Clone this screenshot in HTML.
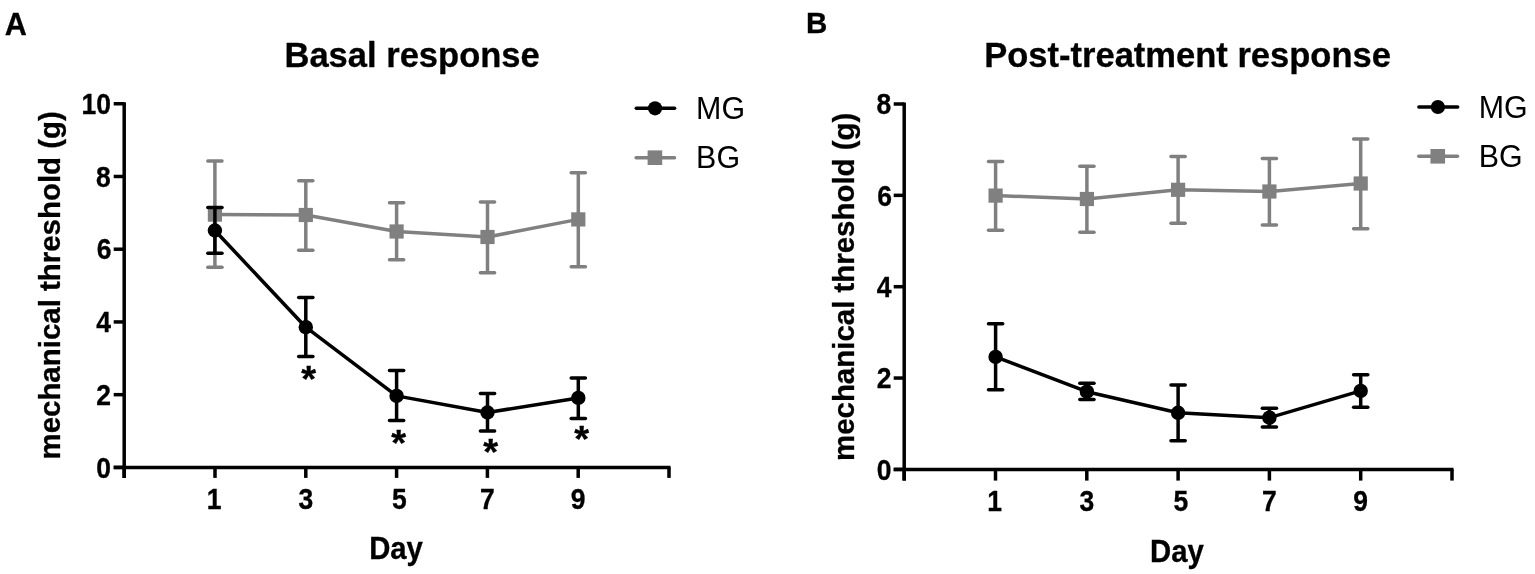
<!DOCTYPE html>
<html><head><meta charset="utf-8"><title>Mechanical threshold</title>
<style>
html,body{margin:0;padding:0;background:#fff;}
body{width:1535px;height:574px;overflow:hidden;}
svg{display:block;font-family:"Liberation Sans",Arial,Helvetica,sans-serif;}
text[font-weight="bold"]{stroke:#000;stroke-width:0.3px;}
</style></head><body>
<svg width="1535" height="574" viewBox="0 0 1535 574">
<rect width="1535" height="574" fill="#fff"/>
<g>
<g stroke="#000" stroke-width="3.5" fill="none" stroke-linecap="butt">
<line x1="124.2" y1="102.25" x2="124.2" y2="477.9"/>
<line x1="113.7" y1="467.4" x2="670.5" y2="467.4"/>
<line x1="113.7" y1="467.4" x2="124.2" y2="467.4"/>
<line x1="113.7" y1="394.66999999999996" x2="124.2" y2="394.66999999999996"/>
<line x1="113.7" y1="321.94" x2="124.2" y2="321.94"/>
<line x1="113.7" y1="249.21" x2="124.2" y2="249.21"/>
<line x1="113.7" y1="176.48000000000002" x2="124.2" y2="176.48000000000002"/>
<line x1="113.7" y1="103.75" x2="124.2" y2="103.75"/>
<line x1="124.2" y1="467.4" x2="124.2" y2="477.9"/>
<line x1="215.0" y1="467.4" x2="215.0" y2="477.9"/>
<line x1="305.8" y1="467.4" x2="305.8" y2="477.9"/>
<line x1="396.59999999999997" y1="467.4" x2="396.59999999999997" y2="477.9"/>
<line x1="487.4" y1="467.4" x2="487.4" y2="477.9"/>
<line x1="578.2" y1="467.4" x2="578.2" y2="477.9"/>
<line x1="669.0" y1="467.4" x2="669.0" y2="477.9"/>
</g>
<text x="96.35" y="0" transform="translate(0 477.60) scale(1 1.12)" font-size="26.5" font-weight="bold">0</text>
<text x="96.32" y="0" transform="translate(0 404.87) scale(1 1.12)" font-size="26.5" font-weight="bold">2</text>
<text x="96.20" y="0" transform="translate(0 332.14) scale(1 1.12)" font-size="26.5" font-weight="bold">4</text>
<text x="96.72" y="0" transform="translate(0 259.41) scale(1 1.12)" font-size="26.5" font-weight="bold">6</text>
<text x="96.08" y="0" transform="translate(0 186.68) scale(1 1.12)" font-size="26.5" font-weight="bold">8</text>
<text x="81.61" y="0" transform="translate(0 113.95) scale(1 1.12)" font-size="26.5" font-weight="bold">10</text>
<text x="206.87" y="0" transform="translate(0 508.80) scale(1 1.12)" font-size="26.5" font-weight="bold">1</text>
<text x="298.61" y="0" transform="translate(0 508.80) scale(1 1.12)" font-size="26.5" font-weight="bold">3</text>
<text x="391.99" y="0" transform="translate(0 508.80) scale(1 1.12)" font-size="26.5" font-weight="bold">5</text>
<text x="480.04" y="0" transform="translate(0 508.80) scale(1 1.12)" font-size="26.5" font-weight="bold">7</text>
<text x="570.86" y="0" transform="translate(0 508.80) scale(1 1.12)" font-size="26.5" font-weight="bold">9</text>
<polyline points="214.90,214.60 305.80,215.00 396.60,231.50 487.50,237.00 578.30,219.40" fill="none" stroke="#808080" stroke-width="3.5" stroke-linejoin="round"/>
<g stroke="#808080" stroke-width="3.5" stroke-linecap="round">
<line x1="214.90" y1="161.10" x2="214.90" y2="267.30" stroke-linecap="butt"/>
<line x1="207.80" y1="161.10" x2="222.00" y2="161.10"/>
<line x1="207.80" y1="267.30" x2="222.00" y2="267.30"/>
<line x1="305.80" y1="180.70" x2="305.80" y2="250.20" stroke-linecap="butt"/>
<line x1="298.70" y1="180.70" x2="312.90" y2="180.70"/>
<line x1="298.70" y1="250.20" x2="312.90" y2="250.20"/>
<line x1="396.60" y1="202.80" x2="396.60" y2="259.80" stroke-linecap="butt"/>
<line x1="389.50" y1="202.80" x2="403.70" y2="202.80"/>
<line x1="389.50" y1="259.80" x2="403.70" y2="259.80"/>
<line x1="487.50" y1="201.90" x2="487.50" y2="272.80" stroke-linecap="butt"/>
<line x1="480.40" y1="201.90" x2="494.60" y2="201.90"/>
<line x1="480.40" y1="272.80" x2="494.60" y2="272.80"/>
<line x1="578.30" y1="172.70" x2="578.30" y2="266.70" stroke-linecap="butt"/>
<line x1="571.20" y1="172.70" x2="585.40" y2="172.70"/>
<line x1="571.20" y1="266.70" x2="585.40" y2="266.70"/>
</g>
<rect x="207.80" y="207.50" width="14.2" height="14.2" fill="#808080"/>
<rect x="298.70" y="207.90" width="14.2" height="14.2" fill="#808080"/>
<rect x="389.50" y="224.40" width="14.2" height="14.2" fill="#808080"/>
<rect x="480.40" y="229.90" width="14.2" height="14.2" fill="#808080"/>
<rect x="571.20" y="212.30" width="14.2" height="14.2" fill="#808080"/>
<polyline points="214.90,230.50 305.80,327.20 396.60,395.90 487.50,412.50 578.30,397.90" fill="none" stroke="#000" stroke-width="3.5" stroke-linejoin="round"/>
<g stroke="#000" stroke-width="3.5" stroke-linecap="round">
<line x1="214.90" y1="207.40" x2="214.90" y2="253.30" stroke-linecap="butt"/>
<line x1="207.80" y1="207.40" x2="222.00" y2="207.40"/>
<line x1="207.80" y1="253.30" x2="222.00" y2="253.30"/>
<line x1="305.80" y1="297.50" x2="305.80" y2="356.60" stroke-linecap="butt"/>
<line x1="298.70" y1="297.50" x2="312.90" y2="297.50"/>
<line x1="298.70" y1="356.60" x2="312.90" y2="356.60"/>
<line x1="396.60" y1="370.60" x2="396.60" y2="420.60" stroke-linecap="butt"/>
<line x1="389.50" y1="370.60" x2="403.70" y2="370.60"/>
<line x1="389.50" y1="420.60" x2="403.70" y2="420.60"/>
<line x1="487.50" y1="393.40" x2="487.50" y2="431.10" stroke-linecap="butt"/>
<line x1="480.40" y1="393.40" x2="494.60" y2="393.40"/>
<line x1="480.40" y1="431.10" x2="494.60" y2="431.10"/>
<line x1="578.30" y1="377.90" x2="578.30" y2="418.40" stroke-linecap="butt"/>
<line x1="571.20" y1="377.90" x2="585.40" y2="377.90"/>
<line x1="571.20" y1="418.40" x2="585.40" y2="418.40"/>
</g>
<circle cx="214.90" cy="230.50" r="7.2" fill="#000"/>
<circle cx="305.80" cy="327.20" r="7.2" fill="#000"/>
<circle cx="396.60" cy="395.90" r="7.2" fill="#000"/>
<circle cx="487.50" cy="412.50" r="7.2" fill="#000"/>
<circle cx="578.30" cy="397.90" r="7.2" fill="#000"/>
<text x="-6.84" y="17.57" transform="translate(308.70 373.20) scale(1.09 1.05)" font-size="35" font-weight="bold">*</text>
<text x="-6.84" y="17.57" transform="translate(398.60 437.80) scale(1.09 1.05)" font-size="35" font-weight="bold">*</text>
<text x="-6.84" y="17.57" transform="translate(490.80 446.90) scale(1.09 1.05)" font-size="35" font-weight="bold">*</text>
<text x="-6.84" y="17.57" transform="translate(581.60 433.70) scale(1.09 1.05)" font-size="35" font-weight="bold">*</text>
<line x1="636.30" y1="108.30" x2="674.60" y2="108.30" stroke="#000" stroke-width="3.5" stroke-linecap="round"/>
<circle cx="655.05" cy="108.30" r="7.1" fill="#000"/>
<text x="696.11" y="0" transform="translate(0 118.80) scale(1 1.01)" font-size="30.4" font-weight="normal" fill="#000">MG</text>
<line x1="636.10" y1="157.70" x2="674.50" y2="157.70" stroke="#808080" stroke-width="3.5" stroke-linecap="round"/>
<rect x="647.60" y="150.40" width="14.6" height="14.6" fill="#808080"/>
<text x="696.11" y="0" transform="translate(0 167.80) scale(1 1.01)" font-size="30.4" font-weight="normal" fill="#000">BG</text>
<text x="4.84" y="35.30" font-size="30.6" font-weight="bold" fill="#000">A</text>
<text x="284.49" y="0" transform="translate(0 66.50) scale(1 1.02)" font-size="34.55" font-weight="bold" fill="#000">Basal response</text>
<text x="369.14" y="0" transform="translate(0 558.70) scale(1 1.06)" font-size="29.3" font-weight="bold" fill="#000">Day</text>
<text x="-1.94" y="0" transform="translate(59.50 457.60) rotate(-90)" font-size="29.45" font-weight="bold">mechanical threshold (g)</text>
<g stroke="#000" stroke-width="3.5" fill="none" stroke-linecap="butt">
<line x1="904.2" y1="102.5" x2="904.2" y2="480.59999999999997"/>
<line x1="893.7" y1="469.4" x2="1453.5" y2="469.4"/>
<line x1="893.7" y1="469.4" x2="904.2" y2="469.4"/>
<line x1="893.7" y1="378.04999999999995" x2="904.2" y2="378.04999999999995"/>
<line x1="893.7" y1="286.7" x2="904.2" y2="286.7"/>
<line x1="893.7" y1="195.35000000000002" x2="904.2" y2="195.35000000000002"/>
<line x1="893.7" y1="104.0" x2="904.2" y2="104.0"/>
<line x1="904.2" y1="469.4" x2="904.2" y2="480.59999999999997"/>
<line x1="995.5" y1="469.4" x2="995.5" y2="480.59999999999997"/>
<line x1="1086.8" y1="469.4" x2="1086.8" y2="480.59999999999997"/>
<line x1="1178.1" y1="469.4" x2="1178.1" y2="480.59999999999997"/>
<line x1="1269.4" y1="469.4" x2="1269.4" y2="480.59999999999997"/>
<line x1="1360.7" y1="469.4" x2="1360.7" y2="480.59999999999997"/>
<line x1="1452.0" y1="469.4" x2="1452.0" y2="480.59999999999997"/>
</g>
<text x="876.85" y="0" transform="translate(0 479.60) scale(1 1.12)" font-size="26.5" font-weight="bold">0</text>
<text x="876.82" y="0" transform="translate(0 388.25) scale(1 1.12)" font-size="26.5" font-weight="bold">2</text>
<text x="876.70" y="0" transform="translate(0 296.90) scale(1 1.12)" font-size="26.5" font-weight="bold">4</text>
<text x="877.22" y="0" transform="translate(0 205.55) scale(1 1.12)" font-size="26.5" font-weight="bold">6</text>
<text x="876.58" y="0" transform="translate(0 114.20) scale(1 1.12)" font-size="26.5" font-weight="bold">8</text>
<text x="987.37" y="0" transform="translate(0 510.50) scale(1 1.12)" font-size="26.5" font-weight="bold">1</text>
<text x="1079.61" y="0" transform="translate(0 510.50) scale(1 1.12)" font-size="26.5" font-weight="bold">3</text>
<text x="1173.49" y="0" transform="translate(0 510.50) scale(1 1.12)" font-size="26.5" font-weight="bold">5</text>
<text x="1262.04" y="0" transform="translate(0 510.50) scale(1 1.12)" font-size="26.5" font-weight="bold">7</text>
<text x="1353.36" y="0" transform="translate(0 510.50) scale(1 1.12)" font-size="26.5" font-weight="bold">9</text>
<polyline points="995.60,195.60 1086.90,199.00 1178.10,189.80 1269.40,191.50 1360.70,183.50" fill="none" stroke="#808080" stroke-width="3.5" stroke-linejoin="round"/>
<g stroke="#808080" stroke-width="3.5" stroke-linecap="round">
<line x1="995.60" y1="161.40" x2="995.60" y2="230.20" stroke-linecap="butt"/>
<line x1="988.50" y1="161.40" x2="1002.70" y2="161.40"/>
<line x1="988.50" y1="230.20" x2="1002.70" y2="230.20"/>
<line x1="1086.90" y1="166.30" x2="1086.90" y2="232.30" stroke-linecap="butt"/>
<line x1="1079.80" y1="166.30" x2="1094.00" y2="166.30"/>
<line x1="1079.80" y1="232.30" x2="1094.00" y2="232.30"/>
<line x1="1178.10" y1="156.50" x2="1178.10" y2="223.20" stroke-linecap="butt"/>
<line x1="1171.00" y1="156.50" x2="1185.20" y2="156.50"/>
<line x1="1171.00" y1="223.20" x2="1185.20" y2="223.20"/>
<line x1="1269.40" y1="158.50" x2="1269.40" y2="224.90" stroke-linecap="butt"/>
<line x1="1262.30" y1="158.50" x2="1276.50" y2="158.50"/>
<line x1="1262.30" y1="224.90" x2="1276.50" y2="224.90"/>
<line x1="1360.70" y1="139.00" x2="1360.70" y2="228.70" stroke-linecap="butt"/>
<line x1="1353.60" y1="139.00" x2="1367.80" y2="139.00"/>
<line x1="1353.60" y1="228.70" x2="1367.80" y2="228.70"/>
</g>
<rect x="988.50" y="188.50" width="14.2" height="14.2" fill="#808080"/>
<rect x="1079.80" y="191.90" width="14.2" height="14.2" fill="#808080"/>
<rect x="1171.00" y="182.70" width="14.2" height="14.2" fill="#808080"/>
<rect x="1262.30" y="184.40" width="14.2" height="14.2" fill="#808080"/>
<rect x="1353.60" y="176.40" width="14.2" height="14.2" fill="#808080"/>
<polyline points="995.60,356.90 1086.90,391.70 1178.10,412.80 1269.40,417.70 1360.70,390.90" fill="none" stroke="#000" stroke-width="3.5" stroke-linejoin="round"/>
<g stroke="#000" stroke-width="3.5" stroke-linecap="round">
<line x1="995.60" y1="323.70" x2="995.60" y2="389.70" stroke-linecap="butt"/>
<line x1="988.50" y1="323.70" x2="1002.70" y2="323.70"/>
<line x1="988.50" y1="389.70" x2="1002.70" y2="389.70"/>
<line x1="1086.90" y1="383.30" x2="1086.90" y2="399.50" stroke-linecap="butt"/>
<line x1="1079.80" y1="383.30" x2="1094.00" y2="383.30"/>
<line x1="1079.80" y1="399.50" x2="1094.00" y2="399.50"/>
<line x1="1178.10" y1="385.00" x2="1178.10" y2="440.70" stroke-linecap="butt"/>
<line x1="1171.00" y1="385.00" x2="1185.20" y2="385.00"/>
<line x1="1171.00" y1="440.70" x2="1185.20" y2="440.70"/>
<line x1="1269.40" y1="408.30" x2="1269.40" y2="427.00" stroke-linecap="butt"/>
<line x1="1262.30" y1="408.30" x2="1276.50" y2="408.30"/>
<line x1="1262.30" y1="427.00" x2="1276.50" y2="427.00"/>
<line x1="1360.70" y1="374.70" x2="1360.70" y2="407.30" stroke-linecap="butt"/>
<line x1="1353.60" y1="374.70" x2="1367.80" y2="374.70"/>
<line x1="1353.60" y1="407.30" x2="1367.80" y2="407.30"/>
</g>
<circle cx="995.60" cy="356.90" r="7.2" fill="#000"/>
<circle cx="1086.90" cy="391.70" r="7.2" fill="#000"/>
<circle cx="1178.10" cy="412.80" r="7.2" fill="#000"/>
<circle cx="1269.40" cy="417.70" r="7.2" fill="#000"/>
<circle cx="1360.70" cy="390.90" r="7.2" fill="#000"/>
<line x1="1418.90" y1="107.00" x2="1457.70" y2="107.00" stroke="#000" stroke-width="3.5" stroke-linecap="round"/>
<circle cx="1437.90" cy="107.00" r="7.1" fill="#000"/>
<text x="1478.71" y="0" transform="translate(0 117.60) scale(1 1.01)" font-size="30.4" font-weight="normal" fill="#000">MG</text>
<line x1="1418.80" y1="156.30" x2="1457.50" y2="156.30" stroke="#808080" stroke-width="3.5" stroke-linecap="round"/>
<rect x="1430.45" y="149.00" width="14.6" height="14.6" fill="#808080"/>
<text x="1478.71" y="0" transform="translate(0 166.70) scale(1 1.01)" font-size="30.4" font-weight="normal" fill="#000">BG</text>
<text x="806.03" y="33.35" font-size="29.5" font-weight="bold" fill="#000">B</text>
<text x="984.19" y="0" transform="translate(0 66.70) scale(1 1.02)" font-size="34.55" font-weight="bold" fill="#000">Post-treatment response</text>
<text x="1150.04" y="0" transform="translate(0 561.50) scale(1 1.06)" font-size="29.3" font-weight="bold" fill="#000">Day</text>
<text x="-1.94" y="0" transform="translate(853.70 459.10) rotate(-90)" font-size="29.45" font-weight="bold">mechanical threshold (g)</text>
</g>
</svg>
</body></html>
